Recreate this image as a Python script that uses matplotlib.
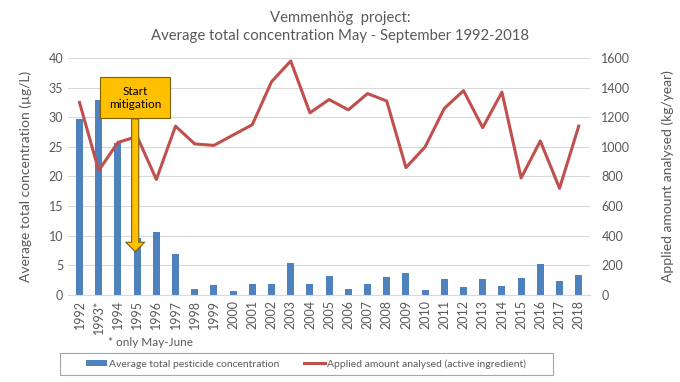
import numpy as np
import matplotlib.pyplot as plt
from matplotlib.patches import Rectangle

years = ["1992", "1993*", "1994", "1995", "1996", "1997", "1998", "1999", "2000",
         "2001", "2002", "2003", "2004", "2005", "2006", "2007", "2008", "2009",
         "2010", "2011", "2012", "2013", "2014", "2015", "2016", "2017", "2018"]
concentration = [29.7, 33.0, 25.7, 9.6, 10.6, 6.9, 1.0, 1.7, 0.7, 1.9, 1.9, 5.4, 1.9,
                 3.2, 1.0, 1.9, 3.0, 3.7, 0.9, 2.7, 1.3, 2.7, 1.5, 2.9, 5.2, 2.3, 3.3]
applied = [1300, 840, 1030, 1070, 780, 1140, 1020, 1010, 1080, 1150, 1440, 1580, 1230,
           1320, 1250, 1360, 1310, 860, 1000, 1260, 1380, 1130, 1370, 790, 1040, 720, 1140]

grey = "#595959"
plt.rcParams["font.family"] = ["Lato", "DejaVu Sans"]

fig = plt.figure(figsize=(6.8, 3.82), dpi=100)
ax = fig.add_axes([0.1, 0.228, 0.768, 0.62])
x = np.arange(len(years))

bars = ax.bar(x, concentration, width=0.37, color="#4F81BD", zorder=2,
              label="Average total pesticide concentration")
ax.set_ylim(0, 40)
ax.set_yticks(range(0, 41, 5))
ax.set_xlim(-0.6, len(years) - 0.4)
ax.set_xticks(x)
ax.set_xticklabels(years, rotation=90, fontsize=8.5, color=grey)
ax.tick_params(axis="both", length=0, labelsize=9, colors=grey)
ax.grid(axis="y", color="#D9D9D9", linewidth=0.8, zorder=0)
for s in ["top", "right", "left"]:
    ax.spines[s].set_visible(False)
ax.spines["bottom"].set_color("#D9D9D9")
ax.set_ylabel("Average total concentration (µg/L)", fontsize=10, color=grey, labelpad=12)

ax2 = ax.twinx()
line, = ax2.plot(x, applied, color="#C0504D", linewidth=2.2, zorder=3,
                 label="Applied amount analysed (active ingredient)")
ax2.set_ylim(0, 1600)
ax2.set_yticks(range(0, 1601, 200))
ax2.tick_params(axis="y", length=0, labelsize=9, colors=grey, pad=8)
for s in ax2.spines.values():
    s.set_visible(False)
ax2.set_ylabel("Applied amount analysed (kg/year)", fontsize=10, color=grey, labelpad=22)

ax2.annotate("Start\nmitigation", xy=(2.9, 7.3), xytext=(2.9, 33.3),
             xycoords=ax.transData, textcoords=ax.transData,
             ha="center", va="center", fontsize=8.5, zorder=5,
             bbox=dict(boxstyle="square,pad=0.75", fc="#FFC000", ec="#7F6000", lw=0.8),
             arrowprops=dict(arrowstyle="simple,head_width=1.6,head_length=0.8,tail_width=0.6",
                             fc="#FFC000", ec="#7F6000", lw=0.8, shrinkA=0, shrinkB=0))

fig.suptitle("Vemmenhög  project:\nAverage total concentration May - September 1992-2018",
             y=0.97, fontsize=10.7, color=grey, linespacing=1.35)
fig.text(108 / 680, 1 - 342 / 382, "* only May-June", fontsize=8.5, color=grey, va="center")

# legend frame drawn separately so the entries can sit with Excel-like spacing
fig.patches.append(Rectangle((60 / 680, 7 / 382), 493 / 680, 22 / 382, transform=fig.transFigure,
                             fill=False, edgecolor="#A6A6A6", linewidth=0.8))
leg = fig.legend([bars, line], [bars.get_label(), line.get_label()], ncol=2,
                 loc="center", bbox_to_anchor=(306 / 680, 18 / 382), fontsize=7.5,
                 frameon=False, handlelength=2.0, handleheight=0.6, handletextpad=0.2,
                 columnspacing=2.4)
for t in leg.get_texts():
    t.set_color(grey)

fig.savefig("out.png", dpi=100)
